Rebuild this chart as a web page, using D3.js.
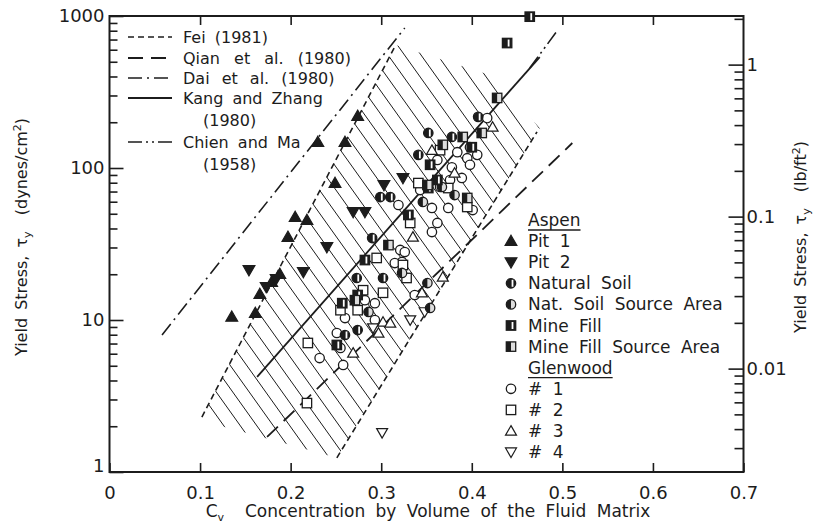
<!DOCTYPE html>
<html><head><meta charset="utf-8">
<script src="https://cdn.jsdelivr.net/npm/d3@7"></script>
<style>
body{margin:0;background:#fff}
svg{display:block}
text{font-family:"DejaVu Sans",sans-serif;fill:#1c1c1c}
</style>
</head><body>
<svg id="c" width="820" height="527"></svg>
<script>
// ---------------- data ----------------
const cvTicks = [0, 0.1, 0.2, 0.3, 0.4, 0.5, 0.6, 0.7];
const cvTickLabels = ["0", "0.1", "0.2", "0.3", "0.4", "0.5", "0.6", "0.7"];
const tauTicks = [1, 10, 100, 1000];
const tauTickLabels = ["1", "10", "100", "1000"];
const lbTicks = [0.01, 0.1, 1];
const lbTickLabels = ["0.01", "0.1", "1"];
const DYN_PER_LB = 478.8; // 1 lb/ft2 = 478.8 dynes/cm2

// relations (Cv, tau dynes/cm2)
const feiLeft  = [[0.102, 2.30], [0.316, 645]];
const feiRight = [[0.251, 1.24], [0.472, 173]];
const qian     = [[0.174, 1.70], [0.511, 146]];
const dai      = [[0.058, 7.97], [0.326, 834]];
const kang     = [[0.163, 4.22], [0.475, 537]];
const chien    = [[0.464, 455], [0.495, 809]];
const feiBand  = [[0.102, 2.30], [0.316, 645], [0.420, 409], [0.475, 183], [0.251, 1.24], [0.119, 2.04]];

// Aspen
const pit1 = [[0.135,10.5],[0.161,11.1],[0.166,14.8],[0.179,17.8],[0.188,20.1],[0.197,35.2],[0.205,47.6],[0.218,45.5],[0.249,79.6],[0.230,148],[0.260,148],[0.274,220]];
const pit2 = [[0.154,21.3],[0.173,16.5],[0.184,18.6],[0.214,20.7],[0.240,30.2],[0.269,51.4],[0.282,51.4],[0.303,77.3],[0.324,86]];
const naturalSoil = [[0.273,18.9],[0.302,18.9],[0.274,8.59],[0.260,7.97],[0.290,34.6],[0.299,64.4],[0.310,64.4],[0.352,170],[0.378,160],[0.407,217],[0.341,122]];
const natSoilSource = [[0.286,11.3],[0.323,20.4],[0.351,17.5],[0.354,12.0],[0.346,59.8],[0.381,66.4],[0.367,75.0]];
const mineFill = [[0.464,990],[0.439,664],[0.251,6.85],[0.257,12.9],[0.274,14.6],[0.282,24.8],[0.354,105],[0.362,83.4],[0.352,73.8],[0.400,137],[0.330,49.1]];
const mineFillSource = [[0.428,289],[0.411,170],[0.368,142],[0.351,77.3],[0.308,31.1],[0.390,160],[0.395,63.5],[0.271,13.5]];
// Glenwood
const glen1 = [[0.417,213],[0.384,127],[0.395,116],[0.406,122],[0.378,101],[0.389,86],[0.376,83.4],[0.343,71.6],[0.319,57.1],[0.356,54.6],[0.374,54.6],[0.401,52.9],[0.362,43.5],[0.356,37.9],[0.321,28.9],[0.326,28.0],[0.323,24.1],[0.315,23.7],[0.282,13.5],[0.293,12.9],[0.337,14.6],[0.260,10.3],[0.251,8.21],[0.255,6.55],[0.232,5.62],[0.258,5.06],[0.362,113],[0.398,137],[0.398,105],[0.365,75.0],[0.293,10.0]];
const glen2 = [[0.218,2.84],[0.219,7.06],[0.255,11.6],[0.274,11.6],[0.280,15.7],[0.302,15.1],[0.295,25.6],[0.324,23.0],[0.328,18.9],[0.332,43.5],[0.341,79.6],[0.374,73.8],[0.365,131],[0.395,55.4]];
const glen3 = [[0.423,186],[0.356,131],[0.381,92.7],[0.335,35.2],[0.302,9.7],[0.310,9.55],[0.345,15.1],[0.297,8.21],[0.269,6.07],[0.368,19.2]];
const glen4 = [[0.301,1.81],[0.332,10.0],[0.291,8.86],[0.348,11.3]];

const lineLegend = [
  {lines: ["Fei (1981)"], style: "fei", ws: 4},
  {lines: ["Qian et al. (1980)"], style: "qian", ws: 9},
  {lines: ["Dai et al. (1980)"], style: "dai", ws: 7},
  {lines: ["Kang and Zhang", "(1980)"], style: "kang", ws: 4},
  {lines: ["Chien and Ma", "(1958)"], style: "chien", ws: 4}
];
const pointLegend = [
  {label: "Aspen", head: true},
  {label: "Pit 1", type: "pit1"},
  {label: "Pit 2", type: "pit2"},
  {label: "Natural Soil", type: "ns"},
  {label: "Nat. Soil Source Area", type: "nss"},
  {label: "Mine Fill", type: "mf"},
  {label: "Mine Fill Source Area", type: "mfs"},
  {label: "Glenwood", head: true},
  {label: "# 1", type: "g1"},
  {label: "# 2", type: "g2"},
  {label: "# 3", type: "g3"},
  {label: "# 4", type: "g4"}
];

// ---------------- drawing ----------------
const INK = "#1c1c1c";
const svg = d3.select("#c");
const L = 109.5, R = 743.5, T = 16, B = 472;
const x = d3.scaleLinear().domain([0, 0.7]).range([L, R]);
const y = d3.scaleLog().domain([1, 1000]).range([B, T]);
const yR = d3.scaleLog().domain([1 / DYN_PER_LB, 1000 / DYN_PER_LB]).range([B, T]);

const styles = {
  fei:   {dash: "6,4", w: 1.6},
  qian:  {dash: "15,8", w: 1.8},
  dai:   {dash: "14,5,2,5", w: 1.6},
  kang:  {dash: null, w: 1.8},
  chien: {dash: "14,4,2,4,2,4", w: 1.6}
};

// hatched band (clip + parallel thin lines)
const defs = svg.append("defs");
const bandLine = d3.line().x(d => x(d[0])).y(d => y(d[1])).curve(d3.curveLinearClosed);
defs.append("clipPath").attr("id", "bandClip").append("path").datum(feiBand).attr("d", bandLine);
const gh = svg.append("g").attr("clip-path", "url(#bandClip)");
const HSLOPE = 1.4, HSTEP = 16.5;
for (let x0 = L - 400; x0 < R; x0 += HSTEP) {
  const y0 = T - 10, y1 = B + 10;
  gh.append("line").attr("x1", x0).attr("y1", y0).attr("x2", x0 + (y1 - y0) / HSLOPE).attr("y2", y1)
    .attr("stroke", INK).attr("stroke-width", 1);
}

// relation lines
const lineGen = d3.line().x(d => x(d[0])).y(d => y(d[1]));
[[feiLeft, "fei"], [feiRight, "fei"], [qian, "qian"], [dai, "dai"], [kang, "kang"], [chien, "chien"]].forEach(([d, s]) => {
  svg.append("path").datum(d).attr("d", lineGen)
    .attr("fill", "none").attr("stroke", INK)
    .attr("stroke-width", styles[s].w)
    .attr("stroke-dasharray", styles[s].dash);
});

// axes frame
svg.append("rect").attr("x", L).attr("y", T).attr("width", R - L).attr("height", B - T)
  .attr("fill", "none").attr("stroke", INK).attr("stroke-width", 2);

// bottom / top ticks
const xAxB = d3.axisBottom(x).tickValues(cvTicks).tickSize(-9).tickFormat((d, i) => cvTickLabels[i]).tickPadding(14);
svg.append("g").attr("transform", `translate(0,${B})`).call(xAxB);
const xAxT = d3.axisTop(x).tickValues(cvTicks.slice(1, -1)).tickSize(-9).tickFormat("");
svg.append("g").attr("transform", `translate(0,${T})`).call(xAxT);

// left ticks
const minorL = [];
for (let e = 0; e < 3; e++) for (let m = 2; m <= 9; m++) minorL.push(m * Math.pow(10, e));
const gyl = svg.append("g").attr("transform", `translate(${L},0)`)
  .call(d3.axisLeft(y).tickValues(tauTicks).tickSize(-14).tickPadding(20).tickFormat((d, i) => tauTickLabels[i]));
svg.append("g").attr("transform", `translate(${L},0)`)
  .call(d3.axisLeft(y).tickValues(minorL).tickSize(-8).tickFormat(""));

// right ticks
const minorR = [];
[0.001, 0.01, 0.1, 1].forEach(dec => { for (let m = 2; m <= 9; m++) { const v = m * dec; if (v >= 1 / DYN_PER_LB && v <= 1000 / DYN_PER_LB) minorR.push(v); } });
const gyr = svg.append("g").attr("transform", `translate(${R},0)`)
  .call(d3.axisRight(yR).tickValues(lbTicks).tickSize(-15).tickPadding(18).tickFormat((d, i) => lbTickLabels[i]));
svg.append("g").attr("transform", `translate(${R},0)`)
  .call(d3.axisRight(yR).tickValues(minorR).tickSize(-9).tickFormat(""));

svg.selectAll(".domain").remove();
svg.selectAll(".tick line").attr("stroke", INK).attr("stroke-width", 1.6);
svg.selectAll(".tick text").style("font-family", "DejaVu Sans, sans-serif").style("font-size", "18px").attr("fill", INK);
gyl.selectAll(".tick text").attr("x", -5);
gyl.selectAll(".tick text").filter(d => d === 1).attr("dy", "-0.05em");
gyr.selectAll(".tick text").attr("x", 3);

// axis titles
const xt = svg.append("text").attr("x", 428).attr("y", 517).attr("text-anchor", "middle")
  .style("font-size", "17px").attr("word-spacing", "5");
xt.append("tspan").text("C");
xt.append("tspan").attr("dy", 4).style("font-size", "11px").text("v");
xt.append("tspan").attr("dy", -4).text("\u00a0 Concentration by Volume of the Fluid Matrix");

function yTitle(cx, unit) {
  const t = svg.append("text").attr("transform", `translate(${cx},237) rotate(-90)`)
    .attr("text-anchor", "middle").style("font-size", "16px").attr("word-spacing", "3");
  t.append("tspan").text("Yield Stress, τ");
  t.append("tspan").attr("dy", 4).style("font-size", "11px").text("y");
  t.append("tspan").attr("dy", -4).text("\u00a0\u00a0(" + unit);
  t.append("tspan").attr("dy", -6).style("font-size", "11px").text("2");
  t.append("tspan").attr("dy", 6).text(")");
}
yTitle(27, "dynes/cm");
yTitle(806, "lb/ft");

// ---------------- markers ----------------
const MS = 4.7;
function drawMarker(g, type, cx, cy) {
  const s = MS;
  if (type === "pit1" || type === "g3") {
    const p = d3.symbol().type(d3.symbolTriangle).size(type === "pit1" ? 60 : 52)();
    g.append("path").attr("d", p).attr("transform", `translate(${cx},${cy + 1})`)
      .attr("fill", type === "pit1" ? INK : "#fff").attr("stroke", INK).attr("stroke-width", 1.2);
  } else if (type === "pit2" || type === "g4") {
    const p = d3.symbol().type(d3.symbolTriangle).size(type === "pit2" ? 60 : 52)();
    g.append("path").attr("d", p).attr("transform", `translate(${cx},${cy - 1}) rotate(180)`)
      .attr("fill", type === "pit2" ? INK : "#fff").attr("stroke", INK).attr("stroke-width", 1.2);
  } else if (type === "g1") {
    g.append("circle").attr("cx", cx).attr("cy", cy).attr("r", s).attr("fill", "#fff").attr("stroke", INK).attr("stroke-width", 1.3);
  } else if (type === "g2") {
    g.append("rect").attr("x", cx - s).attr("y", cy - s).attr("width", 2 * s).attr("height", 2 * s).attr("fill", "#fff").attr("stroke", INK).attr("stroke-width", 1.3);
  } else if (type === "ns" || type === "nss") {
    g.append("circle").attr("cx", cx).attr("cy", cy).attr("r", s).attr("fill", type === "ns" ? INK : "#ddd").attr("stroke", INK).attr("stroke-width", 1.3);
    if (type === "ns") {
      g.append("rect").attr("x", cx + 0.6).attr("y", cy - s + 1.2).attr("width", 1.8).attr("height", 2 * s - 2.4).attr("fill", "#fff");
    } else {
      g.append("path").attr("d", `M${cx},${cy - s}A${s},${s} 0 0 0 ${cx},${cy + s}Z`).attr("fill", INK);
    }
  } else if (type === "mf" || type === "mfs") {
    g.append("rect").attr("x", cx - s).attr("y", cy - s).attr("width", 2 * s).attr("height", 2 * s)
      .attr("fill", type === "mf" ? INK : "#ddd").attr("stroke", INK).attr("stroke-width", 1.3);
    if (type === "mf") {
      g.append("rect").attr("x", cx + 0.6).attr("y", cy - s + 1.2).attr("width", 1.8).attr("height", 2 * s - 2.4).attr("fill", "#fff");
    } else {
      g.append("rect").attr("x", cx - s).attr("y", cy - s).attr("width", s).attr("height", 2 * s).attr("fill", INK);
    }
  }
}

const seriesList = [
  [glen1, "g1"], [glen2, "g2"], [glen3, "g3"], [glen4, "g4"],
  [naturalSoil, "ns"], [natSoilSource, "nss"], [mineFill, "mf"], [mineFillSource, "mfs"],
  [pit1, "pit1"], [pit2, "pit2"]
];
const gp = svg.append("g");
seriesList.forEach(([data, type]) => {
  data.forEach(d => drawMarker(gp, type, x(d[0]), y(d[1])));
});

// ---------------- legends ----------------
const lineRows = [37, 58, 78, 98, 142];
lineLegend.forEach((item, i) => {
  const cy = lineRows[i];
  svg.append("line").attr("x1", 128).attr("x2", 172).attr("y1", cy).attr("y2", cy)
    .attr("stroke", INK).attr("stroke-width", styles[item.style].w).attr("stroke-dasharray", styles[item.style].dash);
  item.lines.forEach((txt, j) => {
    svg.append("text").attr("x", j === 0 ? 183 : 203).attr("y", cy + 6 + j * 22)
      .style("font-size", "16px").attr("word-spacing", item.ws).text(txt);
  });
});

const ptRowY = i => 220 + i * 21.1;
pointLegend.forEach((item, i) => {
  const cy = ptRowY(i);
  const tx = svg.append("text").attr("x", 528).attr("y", cy + 6).style("font-size", "17px").attr("word-spacing", "5").text(item.label);
  if (item.head) {
    const w = tx.node().getComputedTextLength();
    svg.append("line").attr("x1", 528).attr("x2", 528 + w).attr("y1", cy + 10).attr("y2", cy + 10).attr("stroke", INK).attr("stroke-width", 1.3);
  } else {
    drawMarker(svg, item.type, 511, cy);
  }
});
</script>
</body></html>
